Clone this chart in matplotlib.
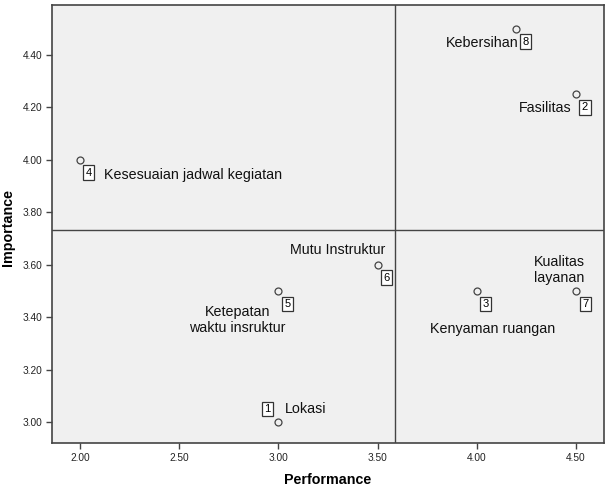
import matplotlib
matplotlib.use("Agg")
import matplotlib.pyplot as plt
import numpy as np

# Data
ids = [1, 2, 3, 4, 5, 6, 7, 8]
labels = ["Lokasi", "Fasilitas", "Kenyaman ruangan", "Kesesuaian jadwal kegiatan",
          "Ketepatan\nwaktu insruktur", "Mutu Instruktur", "Kualitas\nlayanan", "Kebersihan"]
performance = [3.0, 4.5, 4.0, 2.0, 3.0, 3.5, 4.5, 4.2]
importance = [3.0, 4.25, 3.5, 4.0, 3.5, 3.6, 3.5, 4.5]
x_ticks = [2.0, 2.5, 3.0, 3.5, 4.0, 4.5]
y_ticks = [3.0, 3.2, 3.4, 3.6, 3.8, 4.0, 4.2, 4.4]

plt.rcParams['font.family'] = ['Liberation Sans', 'DejaVu Sans']

W, H = 608, 490
fig = plt.figure(figsize=(W/100, H/100), dpi=100)
ax = fig.add_axes([52/W, 1-443/H, (604-52)/W, (443-5)/H])
ax.set_facecolor('#F0F0F0')
dark = '#444444'

ax.set_xlim(1.859, 4.641)
ax.set_ylim(2.920, 4.591)

mx = np.mean(performance)
my = np.mean(importance)
ax.axvline(mx, color=dark, lw=1.0, zorder=1)
ax.axhline(my, color=dark, lw=1.0, zorder=1)

ax.plot(performance, importance, linestyle='none', marker='o', markersize=5,
        markerfacecolor='none', markeredgecolor=dark, markeredgewidth=0.9, zorder=3)

# offsets in pixels: (box dx, box dy), (label dx, label dy, ha)
box_off = {1: (-11, 13)}
lab_off = {
    1: (6, 13, 'left'),
    2: (-5, -14, 'right'),
    3: (16, -38, 'center'),
    4: (24, -15, 'left'),
    5: (-41, -29, 'center'),
    6: (-40, 15, 'center'),
    7: (-17, 21, 'center'),
    8: (2, -14, 'right'),
}
for i, lab, px, py in zip(ids, labels, performance, importance):
    bx, by = box_off.get(i, (9, -13))
    ax.annotate(str(i), (px, py), xytext=(bx, by), textcoords='offset pixels',
                ha='center', va='center', fontsize=8, color='black',
                bbox=dict(boxstyle='square,pad=0.22', fc='white', ec='#333333', lw=0.9),
                zorder=4)
    lx, ly, ha = lab_off[i]
    ax.annotate(lab, (px, py), xytext=(lx, ly), textcoords='offset pixels',
                ha=ha, va='center', multialignment='center', fontsize=10.3,
                color='#111111', linespacing=1.15, zorder=4)

ax.set_xticks(x_ticks)
ax.set_yticks(y_ticks)
ax.set_xticklabels([f"{v:.2f}" for v in x_ticks])
ax.set_yticklabels([f"{v:.2f}" for v in y_ticks])
ax.tick_params(axis='both', labelsize=7.3, length=4, width=1.0, color=dark,
               labelcolor='#222222', pad=3)
for s in ax.spines.values():
    s.set_color(dark)
    s.set_linewidth(1.2)

fig.text(328/W, 1-480/H, "Performance", ha='center', va='center',
         fontsize=10.3, fontweight='bold')
fig.text(8/W, 1-227/H, "Importance", ha='center', va='center', rotation=90,
         fontsize=10.3, fontweight='bold')

fig.savefig("out.png", dpi=100)
